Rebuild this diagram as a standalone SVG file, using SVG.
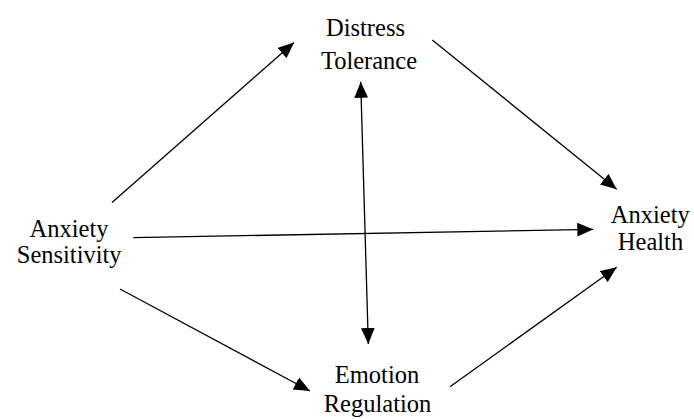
<svg xmlns="http://www.w3.org/2000/svg" width="694" height="419" viewBox="0 0 694 419">
<defs>
<style>
text{font-family:'Liberation Serif','DejaVu Serif',serif;font-size:24.5px;fill:#000;text-anchor:middle}
.edge{stroke:#000;stroke-width:1.3;fill:none}
</style>
<marker id="ah" markerUnits="userSpaceOnUse" markerWidth="16" markerHeight="14" viewBox="0 0 14 12" refX="14" refY="6" orient="auto-start-reverse">
<path d="M0,0 L14,6 L0,12 Z" fill="#000"/>
</marker>
</defs>
<rect width="694" height="419" fill="#fff"/>
<g id="connectors">
<line class="edge" x1="112" y1="202.5" x2="294" y2="42.5" marker-end="url(#ah)"/>
<line class="edge" x1="432.3" y1="40" x2="616.7" y2="189.3" marker-end="url(#ah)"/>
<line class="edge" x1="133.3" y1="237.7" x2="593.3" y2="229.3" marker-end="url(#ah)"/>
<line class="edge" x1="120" y1="289" x2="310" y2="391" marker-end="url(#ah)"/>
<line class="edge" x1="450" y1="386.7" x2="616.7" y2="267.3" marker-end="url(#ah)"/>
<line class="edge" x1="360.7" y1="81.7" x2="368.3" y2="344" marker-start="url(#ah)" marker-end="url(#ah)"/>
</g>
<g id="distress-tolerance" font-family="Liberation Serif, serif">
<text x="365.5" y="36">Distress</text>
<text x="369" y="69">Tolerance</text>
</g>
<g id="anxiety-sensitivity" font-family="Liberation Serif, serif">
<text x="69" y="236.7">Anxiety</text>
<text x="69.2" y="263.3">Sensitivity</text>
</g>
<g id="anxiety-health" font-family="Liberation Serif, serif">
<text x="650.3" y="222.7">Anxiety</text>
<text x="650.5" y="250">Health</text>
</g>
<g id="emotion-regulation" font-family="Liberation Serif, serif">
<text x="377" y="382.7">Emotion</text>
<text x="377.5" y="411.7">Regulation</text>
</g>
</svg>
